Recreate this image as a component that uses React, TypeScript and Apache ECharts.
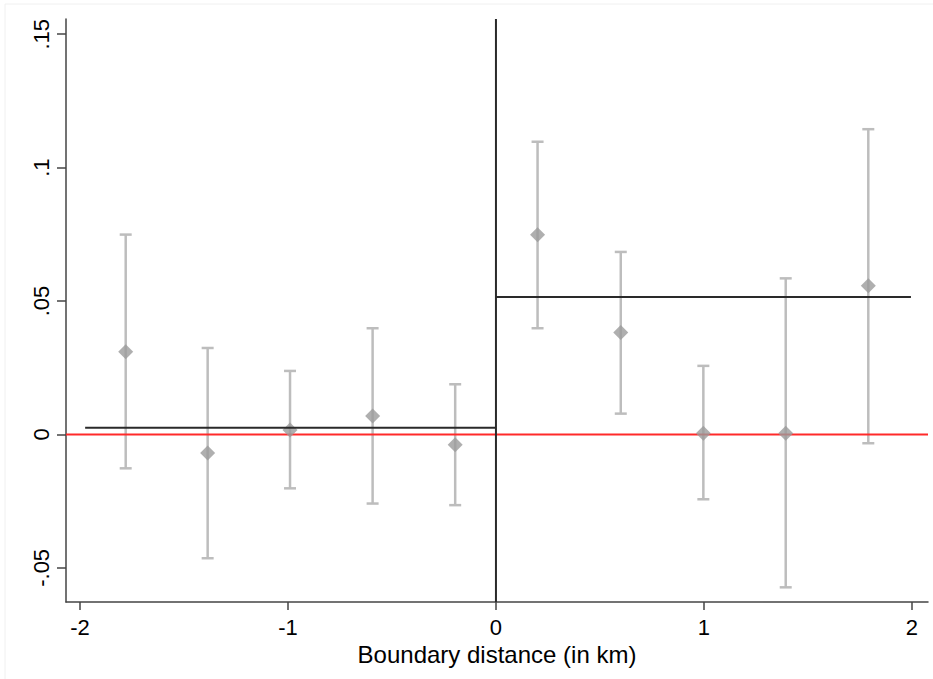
import React, { useEffect, useRef } from "react";
import * as echarts from "echarts";

// Binned estimates by distance to the boundary (km)
const binCenters = [-1.78, -1.386, -0.99, -0.593, -0.196, 0.2, 0.6, 0.997, 1.393, 1.79];
const estimates = [0.031, -0.007, 0.0017, 0.0069, -0.0039, 0.0748, 0.0382, 0.0004, 0.0004, 0.0557];
const ciLower = [-0.0127, -0.0464, -0.0202, -0.0259, -0.0265, 0.0398, 0.0078, -0.0243, -0.0573, -0.0033];
const ciUpper = [0.0749, 0.0324, 0.0238, 0.0398, 0.0188, 0.1097, 0.0684, 0.0257, 0.0585, 0.1144];

// Side-specific mean fits
const leftFit: [number, number][] = [[-1.975, 0.0025], [0, 0.0025]];
const rightFit: [number, number][] = [[0, 0.0515], [1.995, 0.0515]];

const xTicks = [-2, -1, 0, 1, 2];
const yTicks = [-0.05, 0, 0.05, 0.1, 0.15];
const yTickLabels: Record<string, string> = {
  "-0.05": "-.05",
  "0": "0",
  "0.05": ".05",
  "0.1": ".1",
  "0.15": ".15",
};

const FONT = "'Liberation Sans', Arial, sans-serif";

export default function App() {
  const ref = useRef<HTMLDivElement>(null);

  useEffect(() => {
    if (!ref.current) return;
    const chart = echarts.init(ref.current, undefined, { renderer: "svg" });

    const ciData = binCenters.map((x, i) => [x, ciLower[i], ciUpper[i]]);
    const pointData = binCenters.map((x, i) => [x, estimates[i]]);

    chart.setOption({
      animation: false,
      backgroundColor: "#ffffff",
      graphic: [
        {
          type: "rect",
          shape: { x: 5, y: 4, width: 940, height: 700 },
          style: { fill: "none", stroke: "#f0f0f0", lineWidth: 1 },
          silent: true,
          z: -10,
        },
      ],
      grid: { left: 66, right: 5, top: 19, bottom: 77, containLabel: false },
      xAxis: {
        type: "value",
        min: -2.067,
        max: 2.077,
        name: "Boundary distance (in km)",
        nameLocation: "middle",
        nameGap: 36,
        nameTextStyle: { fontFamily: FONT, fontSize: 24, color: "#000" },
        splitLine: { show: false },
        axisLine: { show: true, onZero: false, lineStyle: { color: "#444", width: 1.5 } },
        axisTick: {
          show: true,
          length: 8,
          customValues: xTicks,
          lineStyle: { color: "#444", width: 1.5 },
        },
        axisLabel: {
          customValues: xTicks,
          margin: 14,
          fontFamily: FONT,
          fontSize: 22,
          color: "#000",
          formatter: (v: number) => String(v),
        },
      },
      yAxis: {
        type: "value",
        min: -0.0628,
        max: 0.1557,
        splitLine: { show: false },
        axisLine: { show: true, onZero: false, lineStyle: { color: "#444", width: 1.5 } },
        axisTick: {
          show: true,
          length: 9,
          customValues: yTicks,
          lineStyle: { color: "#444", width: 1.5 },
        },
        axisLabel: {
          customValues: yTicks,
          rotate: 90,
          margin: 14,
          fontFamily: FONT,
          fontSize: 22,
          color: "#000",
          formatter: (v: number) => yTickLabels[String(Math.round(v * 100) / 100)] ?? String(v),
        },
      },
      series: [
        {
          type: "custom",
          name: "ci",
          data: ciData,
          z: 2,
          renderItem: (params: any, api: any) => {
            const x = api.value(0);
            const lo = api.coord([x, api.value(1)]);
            const hi = api.coord([x, api.value(2)]);
            const half = 6;
            const style = { stroke: "#bdbdbd", lineWidth: 2.5 };
            return {
              type: "group",
              children: [
                { type: "line", shape: { x1: lo[0], y1: lo[1], x2: hi[0], y2: hi[1] }, style },
                { type: "line", shape: { x1: lo[0] - half, y1: lo[1], x2: lo[0] + half, y2: lo[1] }, style },
                { type: "line", shape: { x1: hi[0] - half, y1: hi[1], x2: hi[0] + half, y2: hi[1] }, style },
              ],
            };
          },
        },
        {
          type: "line",
          name: "zero",
          data: [[-2.067, 0], [2.077, 0]],
          showSymbol: false,
          lineStyle: { color: "#ff2a2a", width: 2 },
          z: 3,
        },
        {
          type: "scatter",
          name: "estimate",
          data: pointData,
          symbol: "diamond",
          symbolSize: 15,
          itemStyle: { color: "#9b9b9b" },
          z: 4,
        },
        {
          type: "line",
          name: "left fit",
          data: leftFit,
          showSymbol: false,
          lineStyle: { color: "#2a2a2a", width: 2 },
          z: 5,
        },
        {
          type: "line",
          name: "right fit",
          data: rightFit,
          showSymbol: false,
          lineStyle: { color: "#2a2a2a", width: 2 },
          z: 5,
        },
        {
          type: "line",
          name: "boundary",
          data: [[0, -0.0628], [0, 0.1557]],
          showSymbol: false,
          lineStyle: { color: "#2a2a2a", width: 2 },
          z: 5,
        },
      ],
    });

    return () => chart.dispose();
  }, []);

  return (
    <div
      ref={ref}
      style={{ position: "absolute", left: 0, top: 0, width: 933, height: 679 }}
    />
  );
}
